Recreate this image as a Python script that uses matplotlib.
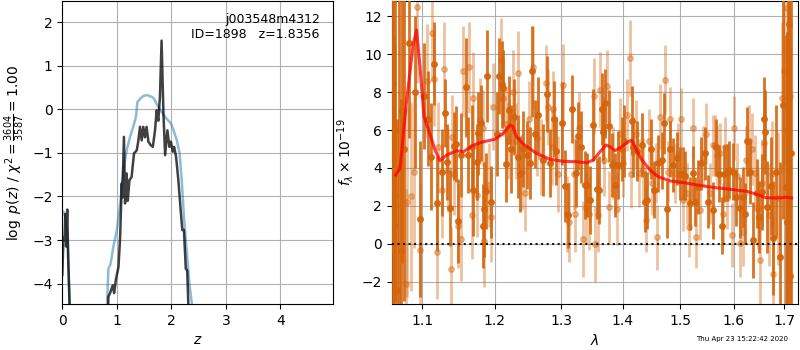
import numpy as np
import matplotlib
matplotlib.use("Agg")
import matplotlib.pyplot as plt
from matplotlib.ticker import FixedLocator, FixedFormatter, NullLocator

# --- p(z) panel ---
z_fit = [0.0, 0.02, 0.04, 0.055, 0.07, 0.09, 0.11, 0.135, 0.2, 0.75,
         0.845, 0.875, 0.925, 0.95, 0.985, 1.03, 1.06, 1.09, 1.10, 1.13,
         1.15, 1.18, 1.20, 1.23, 1.27, 1.315, 1.365, 1.395, 1.425, 1.455,
         1.485, 1.515, 1.545, 1.578, 1.62, 1.66, 1.70, 1.73, 1.76, 1.79,
         1.82, 1.855, 1.885, 1.927, 1.963, 1.99, 2.026, 2.05, 2.086, 2.128,
         2.17, 2.20, 2.23, 2.264, 2.29, 2.31, 2.4, 4.97]
logpz_fit = [-3.8, -2.95, -3.0, -2.4, -3.15, -2.3, -3.5, -4.6, -10, -10,
             -4.3, -4.22, -4.04, -4.22, -3.89, -3.62, -2.93, -1.70, -2.03, -0.63,
             -2.16, -1.47, -2.1, -1.63, -1.55, -1.01, -0.94, -0.71, -0.4, -0.71,
             -0.4, -0.64, -0.4, -0.74, -0.82, -0.86, -0.48, -0.02, -0.26, 0.29,
             1.58, -0.12, -1.05, -0.48, -0.86, -0.74, -0.97, -0.86, -1.09, -1.63,
             -2.31, -2.77, -2.77, -3.66, -3.7, -4.46, -10, -10]

z_prior = [0.0, 0.02, 0.06, 0.10, 0.14, 0.2, 0.75, 0.815, 0.845, 0.885,
           0.935, 1.0, 1.06, 1.12, 1.18, 1.24, 1.30, 1.35, 1.377, 1.43,
           1.487, 1.56, 1.61, 1.64, 1.68, 1.74, 1.82, 1.91, 1.99, 2.04,
           2.10, 2.15, 2.19, 2.23, 2.28, 2.33, 2.375, 2.45, 4.97]
logpz_prior = [-2.4, -2.35, -2.5, -3.2, -4.6, -10, -10, -4.6, -3.66, -3.55,
               -3.16, -2.77, -2.16, -1.4, -0.94, -0.64, -0.4, -0.17, 0.17, 0.25,
               0.31, 0.33, 0.30, 0.29, 0.25, 0.1, -0.06, -0.21, -0.32, -0.48,
               -0.71, -1.01, -1.63, -2.47, -3.23, -4.0, -4.46, -10, -10]

# --- spectrum panel: dark (first) spectrum ---
wave_a = [1.0608, 1.0619, 1.0632, 1.0650, 1.0676, 1.0697, 1.0718, 1.0740, 1.0761, 1.0830,
          1.0904, 1.0970, 1.1023, 1.1080, 1.1111,
          1.1155, 1.1191, 1.1266, 1.1305, 1.1336, 1.1373, 1.1428, 1.1456, 1.1488, 1.1525,
          1.1594, 1.1622, 1.1674, 1.1688, 1.1743, 1.1766, 1.1804, 1.1837, 1.1851, 1.1876,
          1.1891, 1.1948, 1.2030, 1.2068, 1.2103, 1.2122, 1.2165, 1.2214, 1.2234, 1.2283,
          1.2347, 1.2372, 1.2422, 1.2482, 1.2522, 1.2547, 1.2597, 1.2647, 1.2714, 1.2775,
          1.2826, 1.2888, 1.2919, 1.3009, 1.3060, 1.3107, 1.3166, 1.3234, 1.3271, 1.3309,
          1.3378, 1.3415, 1.3459, 1.3503, 1.3568, 1.3611, 1.3649, 1.3665, 1.3704, 1.3775,
          1.3814, 1.3869, 1.3925, 1.3981, 1.4020, 1.4150, 1.4176, 1.4245, 1.4320, 1.4379,
          1.4418, 1.4478, 1.4536, 1.4612, 1.4672, 1.4712, 1.4759, 1.4825, 1.4867, 1.4939,
          1.4998, 1.5059, 1.5089, 1.5180, 1.5229, 1.5272, 1.5333, 1.5377, 1.5456, 1.5518,
          1.5600, 1.5662, 1.5725, 1.5770, 1.5813, 1.5876, 1.5915, 1.5992, 1.6044, 1.6121,
          1.6173, 1.6218, 1.6262, 1.6315, 1.6380, 1.6447, 1.6499, 1.6546, 1.6592, 1.6613,
          1.6659, 1.6726, 1.6779, 1.6833, 1.6915, 1.6969, 1.7030, 1.7051, 1.7080, 1.7099,
          1.7119, 1.7140]
flux_a = [3.0, 8.5, 1.0, 6.0, -2.4, 4.0, -0.37, 7.0, 5.0, 10.56,
          8.0, 1.3, 7.8, 6.6, 4.6,
          9.5, 2.14, 3.77, 6.88, 4.33, 1.88, 5.16, 5.25, 1.21, 4.68,
          8.24, 4.7, 5.1, 2.84, 4.33, 5.82, 6.35, 0.95, 1.84, 2.79,
          8.84, 2.23, 5.8, 8.84, 8.4, 8.2, 4.2, 7.05, 5.0, 6.7,
          4.6, 3.7, 5.0, 4.68, 4.25, 9.1, 5.8, 6.8, 4.4, 7.9,
          4.25, 6.6, 4.9, 6.35, 3.05, 1.5, 7.1, 3.74, 5.68, 5.1,
          3.1, 3.1, 2.3, 6.26, 2.9, 2.85, 7.1, 5.9, 7.4, 6.2,
          4.16, 3.1, 4.16, 5.0, 5.4, 6.5, 5.1, 4.9, 5.2, 2.23,
          2.3, 5.0, 2.85, 4.25, 4.4, 6.35, 1.84, 5.0, 4.16, 4.5,
          3.7, 3.7, 3.6, 2.14, 3.74, 2.23, 3.0, 4.25, 4.77, 2.23,
          1.78, 5.1, 3.7, 0.95, 3.7, 3.74, 3.9, 3.8, 2.45, 1.9,
          2.45, 1.6, 5.4, 3.8, 0.2, 2.66, 1.4, 2.75, 6.6, 5.9,
          1.95, 3.05, 0.3, 3.8, -0.7, 7.3, 3.0, 1.16, 6.0, 11.6,
          -1.7, 4.8]
err_a = [10.0, 9.0, 10.0, 9.0, 9.0, 9.0, 8.0, 8.0, 8.0, 5.0,
         4.0, 4.1, 2.8, 2.5, 2.8,
         2.2, 2.5, 2.3, 1.8, 2.0, 2.0, 1.8, 2.0, 2.2, 2.2,
         2.6, 2.0, 2.2, 2.4, 2.0, 2.2, 2.0, 2.2, 2.5, 2.0,
         2.4, 1.9, 2.2, 2.0, 2.3, 2.0, 2.0, 1.8, 2.3, 2.0,
         2.2, 2.0, 2.0, 1.8, 1.9, 2.4, 1.8, 2.0, 1.9, 2.0,
         1.8, 2.0, 1.8, 2.2, 1.9, 1.7, 1.8, 1.8, 1.8, 1.9,
         1.8, 1.7, 1.8, 1.9, 1.6, 1.8, 1.9, 1.5, 1.8, 1.9,
         1.7, 1.7, 1.8, 1.7, 1.9, 1.8, 1.6, 1.6, 1.7, 1.6,
         1.5, 1.6, 1.5, 1.5, 1.5, 1.6, 1.5, 1.5, 1.4, 1.4,
         1.4, 1.4, 1.3, 1.4, 1.4, 1.3, 1.4, 1.4, 1.4, 1.4,
         1.5, 1.5, 1.5, 1.5, 1.5, 1.5, 1.5, 1.5, 1.5, 1.6,
         1.6, 1.6, 1.8, 1.7, 2.0, 1.8, 1.9, 2.0, 2.2, 2.2,
         2.4, 2.6, 3.0, 3.5, 5.0, 6.0, 8.0, 10.0, 11.0, 10.0,
         12.0, 12.0]

# --- spectrum panel: light (second) spectrum ---
wave_b = [1.0604, 1.0645, 1.0787, 1.0796, 1.0848, 1.0891, 1.0934, 1.0970, 1.1066, 1.1129,
          1.1155, 1.1200, 1.1214, 1.1260, 1.1291, 1.1349, 1.1387, 1.1400, 1.1433, 1.1488,
          1.1520, 1.1548, 1.1640, 1.1678, 1.1688, 1.1752, 1.1790, 1.1828, 1.1847, 1.1923,
          1.1944, 1.1982, 1.2088, 1.2126, 1.2165, 1.2199, 1.2263, 1.2313, 1.2347, 1.2397,
          1.2447, 1.2512, 1.2572, 1.2622, 1.2684, 1.2765, 1.2800, 1.2852, 1.2868, 1.2956,
          1.3034, 1.3087, 1.3128, 1.3203, 1.3222, 1.3287, 1.3351, 1.3394, 1.3448, 1.3516,
          1.3540, 1.3594, 1.3622, 1.3676, 1.3688, 1.3732, 1.3775, 1.3841, 1.3897, 1.3953,
          1.4009, 1.4065, 1.4122, 1.4139, 1.4224, 1.4281, 1.4350, 1.4397, 1.4454, 1.4495,
          1.4571, 1.4594, 1.4642, 1.4730, 1.4789, 1.4813, 1.4908, 1.4968, 1.5011, 1.5059,
          1.5131, 1.5167, 1.5241, 1.5290, 1.5364, 1.5414, 1.5474, 1.5549, 1.5612, 1.5643,
          1.5687, 1.5737, 1.5789, 1.5832, 1.5876, 1.5960, 1.6005, 1.6068, 1.6121, 1.6185,
          1.6237, 1.6302, 1.6349, 1.6414, 1.6480, 1.6513, 1.6546, 1.6592, 1.6698, 1.6746,
          1.6779, 1.6881, 1.6949, 1.6997, 1.7065, 1.7109]
flux_b = [4.0, 2.6, -2.1, 2.2, 2.5, 3.8, 12.5, -0.3, 8.6, 11.1,
          8.7, -0.4, 5.1, 2.84, 9.2, 3.9, -1.33, 5.65, 3.7, 0.95,
          0.25, 9.1, 9.3, 1.53, 7.7, 2.58, 6.53, 6.1, 0.16, 3.1,
          1.44, 7.23, 9.68, 7.67, 6.3, 5.4, 8.0, 5.4, 9.0, 3.8,
          2.66, 6.6, 9.3, 5.6, 4.6, 8.5, 7.2, 5.1, 7.1, 3.7,
          8.35, 1.6, 1.16, 3.7, 1.6, 6.1, 0.25, 1.9, 1.6, 7.8,
          0.0, 1.5, 8.1, 6.0, 4.4, 8.3, 1.95, 4.25, 1.85, 5.8,
          4.25, 6.8, 9.8, 3.7, 5.8, 3.74, 3.9, 1.28, 5.4, 3.2,
          3.74, 0.35, 6.7, 8.65, 3.8, 6.56, 3.74, 4.75, 6.6, 2.3,
          2.66, 0.9, 6.1, 0.35, 1.8, 4.6, 5.8, 2.66, 5.2, 5.2,
          4.68, 4.77, 1.6, 5.1, 2.4, 0.47, 6.1, 3.6, 0.07, 0.65,
          4.4, 5.4, 5.0, 3.74, 1.85, -0.85, 3.2, 5.3, 1.53, 3.7,
          -1.6, 2.4, 7.7, 9.1, 12.4, 7.8]
err_b = [8.0, 8.0, 5.0, 5.0, 5.0, 4.0, 4.0, 3.5, 3.0, 2.5,
         2.5, 2.5, 2.4, 2.5, 2.5, 2.2, 2.2, 2.2, 2.2, 2.2,
         2.2, 2.4, 2.4, 2.3, 2.4, 2.2, 2.2, 2.0, 2.4, 2.2,
         2.4, 2.3, 2.2, 2.0, 2.0, 2.0, 2.2, 2.0, 2.2, 2.0,
         2.0, 2.0, 2.2, 2.0, 2.0, 2.0, 2.0, 2.0, 2.0, 2.0,
         2.2, 2.0, 2.1, 1.9, 2.0, 1.9, 2.0, 1.9, 1.9, 2.0,
         2.0, 1.9, 2.0, 1.8, 1.9, 1.9, 1.9, 1.9, 1.9, 1.9,
         1.8, 1.9, 2.0, 1.8, 1.8, 1.8, 1.7, 1.7, 1.7, 1.7,
         1.6, 1.7, 1.7, 1.8, 1.6, 1.7, 1.6, 1.6, 1.6, 1.6,
         1.6, 1.6, 1.6, 1.6, 1.6, 1.6, 1.6, 1.6, 1.6, 1.6,
         1.6, 1.6, 1.6, 1.6, 1.6, 1.7, 1.7, 1.7, 1.8, 1.8,
         1.8, 1.9, 1.9, 2.0, 2.1, 2.3, 2.3, 2.5, 2.7, 2.8,
         3.0, 3.5, 4.0, 5.0, 8.0, 10.0]

# --- best-fit model ---
wave_model = [1.0654, 1.071, 1.0796, 1.0883, 1.0926, 1.097, 1.1023, 1.110, 1.117, 1.1237,
              1.1328, 1.1465, 1.156, 1.170, 1.1838, 1.2005, 1.2126, 1.2224, 1.2263, 1.232,
              1.2421, 1.262, 1.2826, 1.3036, 1.3246, 1.3405, 1.3513, 1.3622, 1.372, 1.3786,
              1.387, 1.398, 1.4092, 1.415, 1.4205, 1.4317, 1.4466, 1.461, 1.4819, 1.506,
              1.530, 1.5605, 1.593, 1.625, 1.645, 1.662, 1.685, 1.705, 1.715]
flux_model = [3.63, 3.98, 7.58, 10.56, 11.26, 9.33, 6.7, 5.82, 4.95, 4.39,
              4.68, 4.91, 4.86, 5.21, 5.38, 5.51, 5.82, 6.26, 6.2, 5.65,
              5.26, 4.77, 4.46, 4.35, 4.33, 4.28, 4.42, 4.86, 5.21, 5.12,
              4.91, 5.12, 5.38, 5.47, 5.12, 4.46, 3.89, 3.54, 3.32, 3.23,
              3.11, 2.98, 2.88, 2.77, 2.61, 2.44, 2.42, 2.46, 2.42]

wave_ticks = [1.1, 1.2, 1.3, 1.4, 1.5, 1.6, 1.7]
spec_color = '#d4650c'

fig = plt.figure(figsize=(8, 3.5), dpi=100)
ax1 = fig.add_axes([0.0779, 0.1314, 0.3388, 0.8657])
ax2 = fig.add_axes([0.4896, 0.1314, 0.5083, 0.8657])

ax1.plot(z_prior, logpz_prior, color='#1f77b4', alpha=0.5, lw=1.8)
ax1.plot(z_fit, logpz_fit, color='k', alpha=0.75, lw=1.8)
ax1.set_xlim(0, 4.97)
ax1.set_ylim(-4.47, 2.49)
ax1.set_xticks([0, 1, 2, 3, 4])
ax1.set_yticks([-4, -3, -2, -1, 0, 1, 2])
ax1.grid(True)
ax1.set_xlabel(r'$z$')
ax1.set_ylabel(r'$\log\ p(z)$ / $\chi^2=\frac{3604}{3587}=1.00$')
ax1.text(0.95, 0.96, 'j003548m4312\nID=1898   z=1.8356', ha='right', va='top',
         transform=ax1.transAxes, fontsize=9)

ax2.errorbar(wave_b, flux_b, yerr=err_b, marker='o', ms=4, linestyle='none',
             color=spec_color, alpha=0.4, elinewidth=2, capsize=0, zorder=2)
ax2.errorbar(wave_a, flux_a, yerr=err_a, marker='o', ms=4, linestyle='none',
             color=spec_color, alpha=0.9, elinewidth=2, capsize=0, zorder=3)
ax2.plot(wave_model, flux_model, color='r', alpha=0.75, lw=2.2, zorder=4)
ax2.axhline(0, color='k', linestyle=':', lw=1.5, alpha=0.9, zorder=5)

ax2.set_xscale('log')
ax2.set_xlim(1.0603, 1.729)
ax2.set_ylim(-3.16, 12.79)
ax2.xaxis.set_major_locator(FixedLocator(wave_ticks))
ax2.xaxis.set_major_formatter(FixedFormatter([str(w) for w in wave_ticks]))
ax2.xaxis.set_minor_locator(NullLocator())
ax2.set_yticks([-2, 0, 2, 4, 6, 8, 10, 12])
ax2.grid(True)
ax2.set_xlabel(r'$\lambda$')
ax2.set_ylabel(r'$f_\lambda\times10^{-19}$')

fig.text(0.985, 0.022, 'Thu Apr 23 15:22:42 2020', ha='right', va='bottom', fontsize=5)

fig.savefig('out.png', dpi=100)
